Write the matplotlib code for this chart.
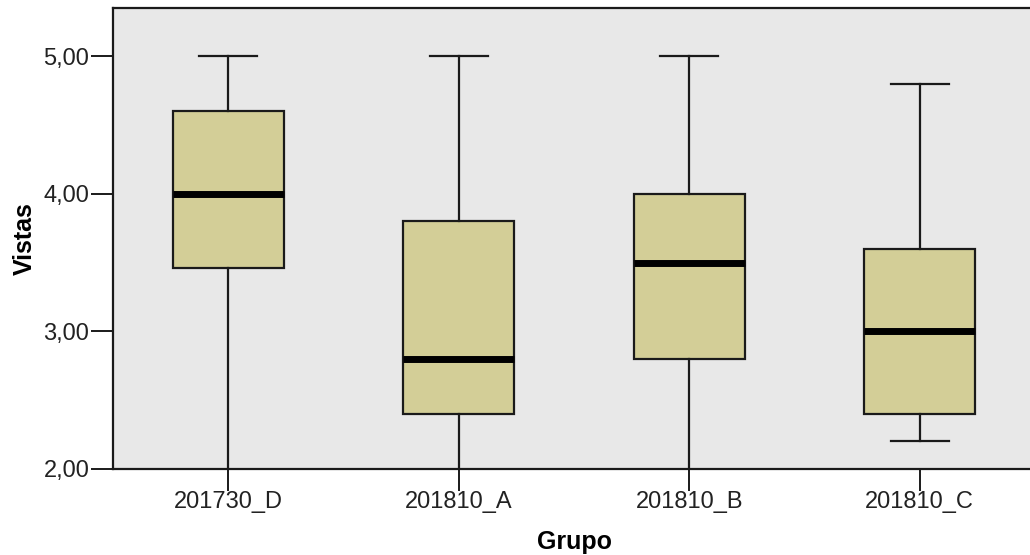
import numpy as np
import matplotlib
matplotlib.use('Agg')
import matplotlib.pyplot as plt
from matplotlib.ticker import FuncFormatter

plt.rcParams['font.family'] = ['Liberation Sans', 'DejaVu Sans']

# grupos y estadisticos de cada caja (Vistas)
grupos = ['201730_D', '201810_A', '201810_B', '201810_C']
minimo = [1.6, 1.6, 1.6, 2.2]
q1 = [3.46, 2.40, 2.80, 2.40]
mediana = [4.00, 2.80, 3.50, 3.00]
q3 = [4.60, 3.80, 4.00, 3.60]
maximo = [5.00, 5.00, 5.00, 4.80]

stats = []
for g, lo, a, m, b, hi in zip(grupos, minimo, q1, mediana, q3, maximo):
    stats.append(dict(label=g, whislo=lo, q1=a, med=m, q3=b, whishi=hi, fliers=[]))

fig = plt.figure(figsize=(10.3, 5.55), dpi=100)
ax = fig.add_axes([113/1030, 86/555, 922/1030, 461/555])
ax.set_facecolor('#e8e8e8')

pos = np.arange(1, len(grupos) + 1)
ax.bxp(stats, positions=pos, widths=0.48, patch_artist=True, showfliers=False,
       boxprops=dict(facecolor='#d3ce97', edgecolor='#1a1a1a', linewidth=1.6),
       medianprops=dict(color='black', linewidth=5, solid_capstyle='butt'),
       whiskerprops=dict(color='#1a1a1a', linewidth=1.6),
       capprops=dict(color='#1a1a1a', linewidth=1.6),
       capwidths=0.25)

ax.set_xlim(0.5, 4.5)
ax.set_ylim(2.0, 5.35)
ax.set_yticks([2, 3, 4, 5])
ax.yaxis.set_major_formatter(FuncFormatter(lambda v, p: ('%.2f' % v).replace('.', ',')))
ax.set_xticks(pos)
ax.set_xticklabels(grupos)
ax.tick_params(axis='both', length=16, width=1.4, color='#1a1a1a', labelsize=17,
               labelcolor='#222222')
ax.tick_params(axis='y', pad=1)
ax.tick_params(axis='x', pad=0)

for s in ax.spines.values():
    s.set_linewidth(1.6)
    s.set_color('#1a1a1a')

ax.set_xlabel('Grupo', fontsize=18, fontweight='bold', labelpad=12)
ax.set_ylabel('Vistas', fontsize=18, fontweight='bold', labelpad=5)

fig.savefig('out.png', dpi=100)
